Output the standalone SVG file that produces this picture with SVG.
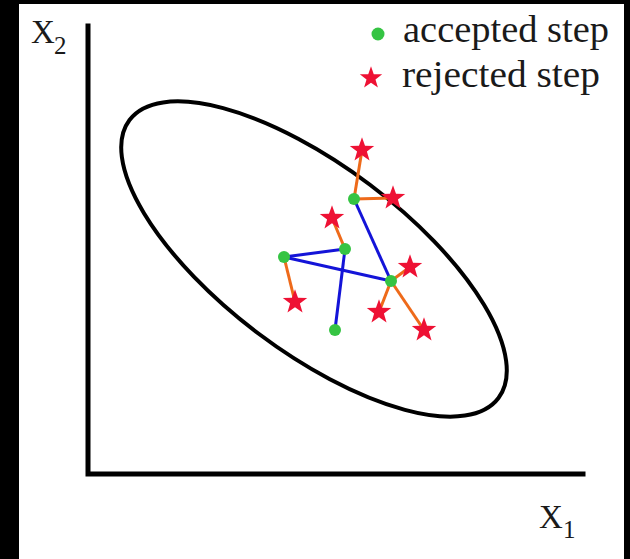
<svg xmlns="http://www.w3.org/2000/svg" xmlns:xlink="http://www.w3.org/1999/xlink" width="630" height="559" viewBox="0 0 630 559">
<style>
.txt{font-family:"Liberation Serif","DejaVu Serif",serif;fill:#1a1a1a}
.axis{stroke:#000;stroke-width:5;fill:none;stroke-linecap:square}
.acc{stroke:#1414d8;stroke-width:3;fill:none}
.rej{stroke:#ee6a1a;stroke-width:3;fill:none}
.dot{fill:#35c443}
.star{fill:#ee1134}
</style>
<defs>
<polygon id="star" points="0,-12 2.82,-3.88 11.41,-3.71 4.57,1.48 7.05,9.71 0,4.8 -7.05,9.71 -4.57,1.48 -11.41,-3.71 -2.82,-3.88"/>
</defs>
<rect x="0" y="0" width="630" height="559" fill="#000"/>
<rect x="19" y="4" width="605" height="555" fill="#fff"/>
<g id="axes">
<path class="axis" d="M88,26 L88,474 L583,474"/>
<text class="txt" x="31" y="43" font-size="33">X</text>
<text class="txt" x="54" y="54" font-size="25">2</text>
<text class="txt" x="539" y="528" font-size="33">X</text>
<text class="txt" x="563" y="538" font-size="25">1</text>
</g>
<g id="ellipse">
<ellipse cx="314" cy="259" rx="231" ry="93" transform="rotate(37 314 259)" fill="none" stroke="#000" stroke-width="4"/>
</g>
<g id="connectors">
<line class="acc" x1="335" y1="330" x2="345" y2="249"/>
<line class="acc" x1="345" y1="249" x2="284" y2="257"/>
<line class="acc" x1="284" y1="257" x2="391" y2="281"/>
<line class="acc" x1="391" y1="281" x2="354" y2="199"/>
<line class="rej" x1="345" y1="249" x2="332" y2="218"/>
<line class="rej" x1="284" y1="257" x2="295" y2="302"/>
<line class="rej" x1="391" y1="281" x2="410" y2="267"/>
<line class="rej" x1="391" y1="281" x2="379" y2="312"/>
<line class="rej" x1="391" y1="281" x2="424" y2="330"/>
<line class="rej" x1="354" y1="199" x2="362" y2="150"/>
<line class="rej" x1="354" y1="199" x2="393" y2="198"/>
</g>
<g id="rejected-steps" class="star">
<use xlink:href="#star" href="#star" transform="translate(362 150) scale(1.07)"/>
<use xlink:href="#star" href="#star" transform="translate(393 198) scale(1.07)"/>
<use xlink:href="#star" href="#star" transform="translate(332 218) scale(1.07)"/>
<use xlink:href="#star" href="#star" transform="translate(295 302) scale(1.07)"/>
<use xlink:href="#star" href="#star" transform="translate(410 267) scale(1.07)"/>
<use xlink:href="#star" href="#star" transform="translate(379 312) scale(1.07)"/>
<use xlink:href="#star" href="#star" transform="translate(424 330) scale(1.07)"/>
</g>
<g id="accepted-steps" class="dot">
<circle cx="354" cy="199" r="6"/>
<circle cx="345" cy="249" r="6"/>
<circle cx="284" cy="257" r="6"/>
<circle cx="391" cy="281" r="6"/>
<circle cx="335" cy="330" r="6"/>
</g>
<g id="legend">
<circle class="dot" cx="378" cy="34" r="6.5"/>
<text class="txt" x="403" y="42" font-size="38" textLength="206" lengthAdjust="spacingAndGlyphs">accepted step</text>
<use class="star" xlink:href="#star" href="#star" transform="translate(371 78) scale(0.98)"/>
<text class="txt" x="402" y="87" font-size="38" textLength="198" lengthAdjust="spacingAndGlyphs">rejected step</text>
</g>
</svg>
